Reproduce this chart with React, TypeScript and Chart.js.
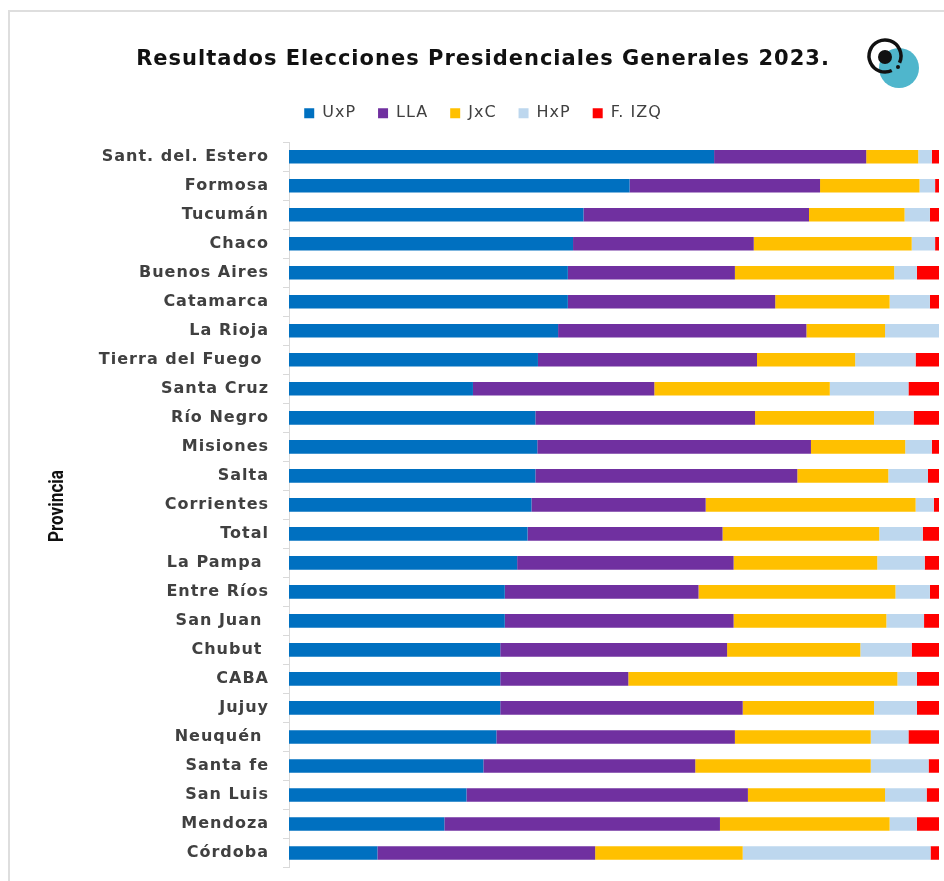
import React, { useEffect, useRef } from "react";
import { Chart, registerables } from "chart.js";

Chart.register(...registerables);

const provinces = [
  "Sant. del. Estero", "Formosa", "Tucumán", "Chaco", "Buenos Aires", "Catamarca",
  "La Rioja", "Tierra del Fuego ", "Santa Cruz", "Río Negro", "Misiones", "Salta",
  "Corrientes", "Total", "La Pampa ", "Entre Ríos", "San Juan ", "Chubut ", "CABA",
  "Jujuy", "Neuquén ", "Santa fe", "San Luis", "Mendoza", "Córdoba",
];

const uxp = [65.4, 52.4, 45.3, 43.7, 42.9, 42.9, 41.4, 38.3, 28.3, 37.9, 38.2, 37.9, 37.3, 36.7, 35.1, 33.2, 33.2, 32.5, 32.5, 32.5, 31.9, 29.9, 27.3, 23.9, 13.6];
const lla = [23.4, 29.3, 34.7, 27.8, 25.7, 31.9, 38.2, 33.7, 27.9, 33.8, 42.1, 40.3, 26.8, 30.0, 33.3, 29.8, 35.2, 34.9, 19.7, 37.3, 36.7, 32.6, 43.3, 42.4, 33.5];
const jxc = [8.0, 15.3, 14.7, 24.3, 24.5, 17.6, 12.1, 15.1, 27.0, 18.3, 14.5, 14.0, 32.3, 24.1, 22.1, 30.3, 23.5, 20.5, 41.4, 20.2, 20.9, 27.0, 21.1, 26.1, 22.7];
const hxp = [2.1, 2.4, 3.9, 3.6, 3.5, 6.2, 8.3, 9.3, 12.1, 6.1, 4.1, 6.1, 2.8, 6.7, 7.3, 5.3, 5.8, 7.9, 3.0, 6.6, 5.8, 8.9, 6.4, 4.2, 28.9];
const fizq = [1.1, 0.6, 1.4, 0.6, 3.4, 1.4, 0.0, 3.6, 4.7, 3.9, 1.1, 1.7, 0.8, 2.5, 2.2, 1.4, 2.3, 4.2, 3.4, 3.4, 4.7, 1.6, 1.9, 3.4, 1.3];

const seriesNames = ["UxP", "LLA", "JxC", "HxP", "F. IZQ"];
const seriesColors = ["#0070C0", "#7030A0", "#FFC000", "#BDD7EE", "#FF0000"];
const titleText = "Resultados Elecciones Presidenciales Generales 2023.";
const axisTitle = "Provincia";

const spacing = (chart: any) => {
  if (chart.ctx) (chart.ctx as any).letterSpacing = "1px";
};

const decorPlugin = {
  id: "decor",
  beforeUpdate: spacing,
  beforeLayout: spacing,
  beforeDraw(chart: any) {
    const ctx = chart.ctx;
    ctx.save();
    ctx.fillStyle = "#ffffff";
    ctx.fillRect(0, 0, chart.width, chart.height);
    ctx.strokeStyle = "#dedede";
    ctx.lineWidth = 2;
    ctx.beginPath();
    ctx.moveTo(9, chart.height);
    ctx.lineTo(9, 11);
    ctx.lineTo(chart.width, 11);
    ctx.stroke();
    ctx.restore();
    spacing(chart);
  },
  afterDraw(chart: any) {
    const ctx = chart.ctx;
    ctx.save();
    // logo
    ctx.fillStyle = "#4FB6CC";
    ctx.beginPath();
    ctx.arc(899, 68, 20, 0, Math.PI * 2);
    ctx.fill();
    ctx.strokeStyle = "#111";
    ctx.lineWidth = 3.5;
    ctx.beginPath();
    ctx.arc(885, 56, 16, (65 * Math.PI) / 180, (385 * Math.PI) / 180);
    ctx.stroke();
    ctx.fillStyle = "#111";
    ctx.beginPath();
    ctx.arc(885, 57, 7, 0, Math.PI * 2);
    ctx.fill();
    ctx.beginPath();
    ctx.arc(898, 67, 2, 0, Math.PI * 2);
    ctx.fill();
    // condensed rotated axis title
    (ctx as any).letterSpacing = "0px";
    ctx.font = "bold 21px Roboto";
    const w = ctx.measureText(axisTitle).width;
    ctx.translate(58, 506);
    ctx.rotate(-Math.PI / 2);
    ctx.scale(72 / w, 1);
    ctx.fillStyle = "#111";
    ctx.textAlign = "center";
    ctx.textBaseline = "middle";
    ctx.fillText(axisTitle, 0, 0);
    ctx.restore();
  },
};

export default function App() {
  const ref = useRef<HTMLCanvasElement | null>(null);
  useEffect(() => {
    if (!ref.current) return;
    const values = [uxp, lla, jxc, hxp, fizq];
    const chart = new Chart(ref.current, {
      type: "bar",
      data: {
        labels: provinces,
        datasets: seriesNames.map((n, i) => ({
          label: n,
          data: values[i],
          backgroundColor: seriesColors[i],
          borderWidth: 0,
          barPercentage: 0.47,
          categoryPercentage: 1,
        })),
      },
      options: {
        indexAxis: "y",
        animation: false,
        responsive: false,
        maintainAspectRatio: false,
        layout: { padding: { left: 27, right: 5, top: 47, bottom: 13.5 } },
        plugins: {
          title: {
            display: true,
            text: titleText,
            color: "#111",
            font: { family: "DejaVu Sans", size: 21, weight: "bold" },
            padding: { top: 0, bottom: 11 },
          },
          legend: {
            display: true,
            labels: {
              boxWidth: 10,
              boxHeight: 10,
              color: "#404040",
              font: { family: "DejaVu Sans", size: 16 },
              padding: 22,
            },
          },
          tooltip: { enabled: false },
        },
        scales: {
          x: {
            stacked: true,
            display: true,
            position: "top",
            min: 0,
            max: 100,
            ticks: { display: false },
            grid: { display: false },
            border: { display: false },
            afterFit(scale: any) {
              scale.height = 11;
            },
          },
          y: {
            stacked: true,
            afterFit(scale: any) {
              scale.width = 262;
              scale.paddingTop = 0;
              scale.paddingBottom = 0;
            },
            border: { display: true, color: "#d9d9d9", width: 1 },
            grid: { drawOnChartArea: false, drawTicks: true, tickLength: 6, color: "#d9d9d9" },
            ticks: {
              color: "#404040",
              padding: 14,
              font: { family: "DejaVu Sans", size: 16, weight: "bold" },
              autoSkip: false,
            },
          },
        },
      },
      plugins: [decorPlugin],
    });
    return () => chart.destroy();
  }, []);
  return (
    <div style={{ position: "absolute", left: 0, top: 0, width: 944, height: 881 }}>
      <canvas ref={ref} width={944} height={881} style={{ width: 944, height: 881 }} />
    </div>
  );
}
